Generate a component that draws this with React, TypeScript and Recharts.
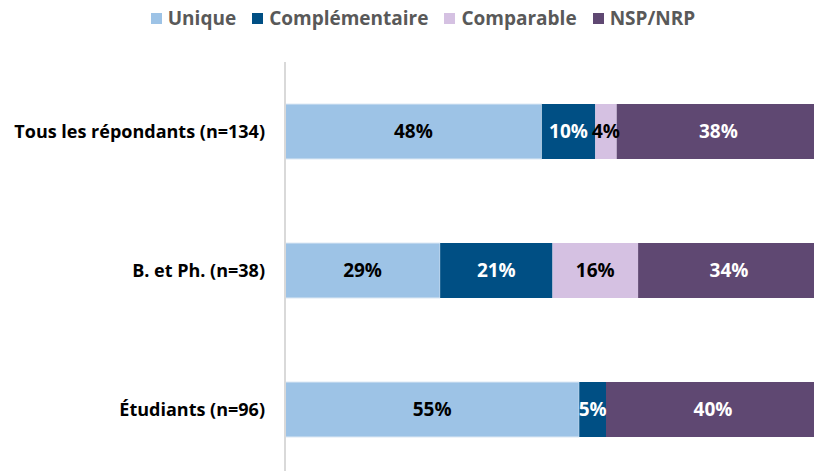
import { BarChart, Bar, XAxis, YAxis, Legend, LabelList } from 'recharts'

const groups = ['Tous les répondants (n=134)', 'B. et Ph. (n=38)', 'Étudiants (n=96)']
const unique = [48, 29, 55]
const complementaire = [10, 21, 5]
const comparable = [4, 16, 0]
const nsp = [38, 34, 40]

const series = [
  { key: 'unique', name: 'Unique', color: '#9dc3e6', text: '#000' },
  { key: 'complementaire', name: 'Complémentaire', color: '#004f84', text: '#fff' },
  { key: 'comparable', name: 'Comparable', color: '#d5c1e2', text: '#000' },
  { key: 'nsp', name: 'NSP/NRP', color: '#5f4872', text: '#fff' },
]

const data = groups.map((g, i) => ({
  group: g,
  unique: unique[i],
  complementaire: complementaire[i],
  comparable: comparable[i],
  nsp: nsp[i],
}))

const font = '"Open Sans", "DejaVu Sans", sans-serif'

function LegendRow() {
  return (
    <div
      style={{
        display: 'flex',
        justifyContent: 'center',
        alignItems: 'flex-start',
        gap: 16,
        height: 62,
        paddingTop: 6,
        paddingLeft: 26,
        boxSizing: 'border-box',
        fontFamily: font,
        fontWeight: 700,
        fontSize: 19,
        lineHeight: '24px',
        color: '#595959',
      }}
    >
      {series.map((s) => (
        <span key={s.key} style={{ display: 'flex', alignItems: 'center', gap: 6 }}>
          <span style={{ width: 11, height: 11, background: s.color, display: 'inline-block' }} />
          {s.name}
        </span>
      ))}
    </div>
  )
}

export default function App() {
  return (
    <div
      style={{
        position: 'fixed',
        left: 0,
        top: 0,
        width: 814,
        height: 471,
        overflow: 'hidden',
        background: '#fff',
      }}
    >
      <BarChart
        width={820}
        height={479}
        data={data}
        layout="vertical"
        barCategoryGap={42}
        margin={{ top: 0, right: 0, bottom: 0, left: 0 }}
      >
        <Legend verticalAlign="top" align="center" content={() => <LegendRow />} />
        <XAxis type="number" domain={[0, 100]} hide />
        <YAxis
          type="category"
          dataKey="group"
          width={285}
          tickLine={false}
          tickSize={0}
          tickMargin={20}
          axisLine={{ stroke: '#d9d9d9', strokeWidth: 2 }}
          tick={{ fill: '#000', fontSize: 18, fontWeight: 700, fontFamily: font }}
        />
        {series.map((s) => (
          <Bar
            key={s.key}
            dataKey={s.key}
            name={s.name}
            stackId="a"
            fill={s.color}
            stroke={s.key === 'unique' ? '#dce8f4' : undefined}
            isAnimationActive={false}
          >
            <LabelList
              dataKey={s.key}
              position="center"
              formatter={(v: any) => (v > 0 ? `${v}%` : '')}
              style={{ fill: s.text, fontSize: 19, fontWeight: 700, fontFamily: font }}
            />
          </Bar>
        ))}
      </BarChart>
    </div>
  )
}
